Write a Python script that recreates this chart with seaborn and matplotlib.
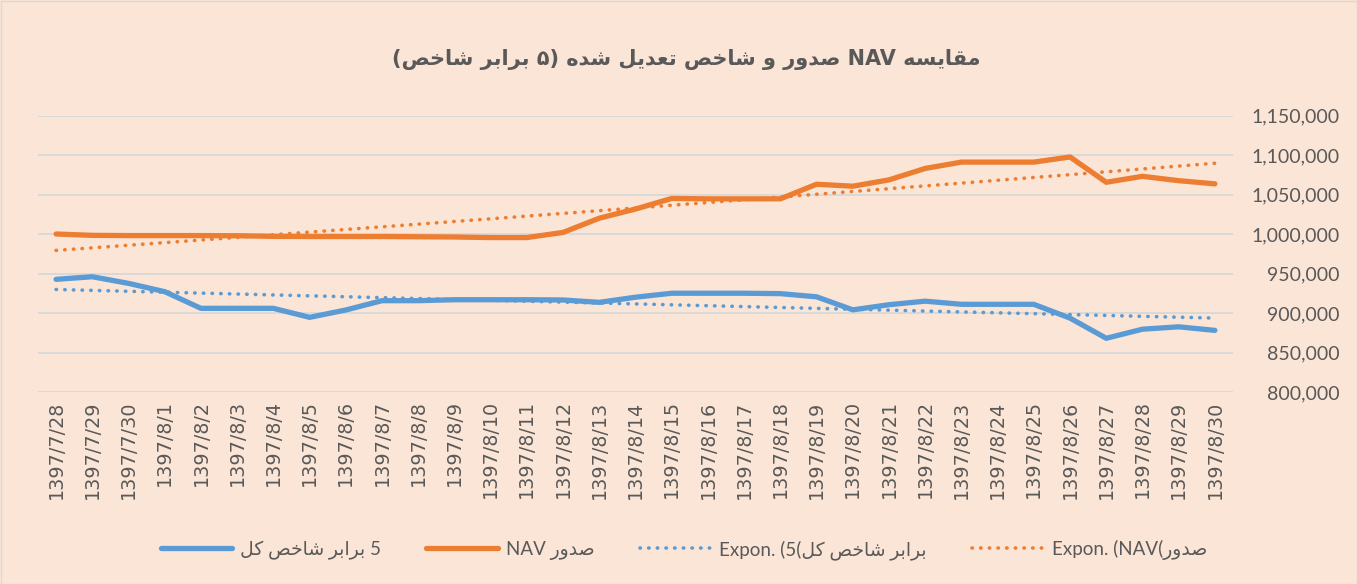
import numpy as np
import pandas as pd
import seaborn as sns
import matplotlib.pyplot as plt
from matplotlib.patches import Rectangle

# --- data ---
dates = ['1397/7/28', '1397/7/29', '1397/7/30'] + ['1397/8/%d' % d for d in range(1, 31)]

nav = [1000000, 998300, 998000, 998000, 998000, 997800, 997000, 996800,
       996800, 996800, 996500, 996200, 995500, 995500, 1002000, 1020000,
       1031600, 1045000, 1044500, 1044500, 1044500, 1063000, 1060500,
       1068500, 1083000, 1091000, 1091000, 1091000, 1097500, 1065500,
       1073000, 1067500, 1063500]

index5 = [942600, 945900, 937500, 927000, 905900, 905900, 905900, 894500,
          903800, 915600, 915600, 916800, 916800, 916800, 916500, 913500,
          920000, 925000, 925000, 925000, 924500, 920500, 904000, 910500,
          915000, 911000, 911000, 911000, 893500, 868000, 879500, 882500,
          878000]

yticks = list(range(800000, 1150001, 50000))

# --- minimal Persian shaping (matplotlib has no bidi/shaping) ---
FORMS = {
    'ا': ('\uFE8D', '\uFE8E'),
    'د': ('\uFEA9', '\uFEAA'),
    'ر': ('\uFEAD', '\uFEAE'),
    'و': ('\uFEED', '\uFEEE'),
    'ب': ('\uFE8F', '\uFE90', '\uFE91', '\uFE92'),
    'ت': ('\uFE95', '\uFE96', '\uFE97', '\uFE98'),
    'خ': ('\uFEA5', '\uFEA6', '\uFEA7', '\uFEA8'),
    'س': ('\uFEB1', '\uFEB2', '\uFEB3', '\uFEB4'),
    'ش': ('\uFEB5', '\uFEB6', '\uFEB7', '\uFEB8'),
    'ص': ('\uFEB9', '\uFEBA', '\uFEBB', '\uFEBC'),
    'ع': ('\uFEC9', '\uFECA', '\uFECB', '\uFECC'),
    'ق': ('\uFED5', '\uFED6', '\uFED7', '\uFED8'),
    'ل': ('\uFEDD', '\uFEDE', '\uFEDF', '\uFEE0'),
    'م': ('\uFEE1', '\uFEE2', '\uFEE3', '\uFEE4'),
    'ه': ('\uFEE9', '\uFEEA', '\uFEEB', '\uFEEC'),
    'ی': ('\uFBFC', '\uFBFD', '\uFEF3', '\uFEF4'),
    'ک': ('\uFB8E', '\uFB8F', '\uFEDB', '\uFEDC'),
}


def shape(word):
    out = []
    for i, c in enumerate(word):
        if c not in FORMS:
            out.append(c)
            continue
        prev = i > 0 and word[i - 1] in FORMS and len(FORMS[word[i - 1]]) == 4
        nxt = len(FORMS[c]) == 4 and i + 1 < len(word) and word[i + 1] in FORMS
        f = FORMS[c]
        if prev and nxt:
            out.append(f[3])
        elif prev:
            out.append(f[1])
        elif nxt:
            out.append(f[2])
        else:
            out.append(f[0])
    return ''.join(out)


def rtl(text):
    mirror = str.maketrans('()', ')(')
    words = []
    for w in reversed(text.split(' ')):
        if any('\u0600' <= c <= '\u06FF' for c in w):
            w = shape(w)[::-1].translate(mirror)
        words.append(w)
    return ' '.join(words)


title = rtl('مقایسه NAV صدور و شاخص تعدیل شده (۵ برابر شاخص)')
lbl_index = rtl('5 برابر شاخص کل')
lbl_nav = rtl('صدور NAV')
lbl_index_tr = 'Expon. (5' + rtl('برابر شاخص کل)')
lbl_nav_tr = 'Expon. (NAV' + rtl('صدور)')

# exponential trendlines, as Excel computes them
xs = np.arange(1, len(dates) + 1)
b1, a1 = np.polyfit(xs, np.log(index5), 1)
b2, a2 = np.polyfit(xs, np.log(nav), 1)
df = pd.DataFrame({'date': dates, 'nav': nav, 'index5': index5,
                   'index_tr': np.exp(a1 + b1 * xs), 'nav_tr': np.exp(a2 + b2 * xs)})

# --- style ---
bg = '#FBE5D6'
txt = '#595959'
blue = '#5B9BD5'
orange = '#ED7D31'
sns.set_theme(style='white')
plt.rcParams['font.family'] = ['Lato', 'DejaVu Sans']
plt.rcParams['text.color'] = txt

fig = plt.figure(figsize=(13.57, 5.84), dpi=100, facecolor=bg)
ax = fig.add_axes([38 / 1357, 1 - 392 / 584, 1195 / 1357, 276.5 / 584])
ax.set_facecolor(bg)

sns.lineplot(data=df, x='date', y='index5', ax=ax, color=blue, lw=3.8,
             solid_capstyle='round', label=lbl_index, zorder=3)
sns.lineplot(data=df, x='date', y='nav', ax=ax, color=orange, lw=3.8,
             solid_capstyle='round', label=lbl_nav, zorder=3)
sns.lineplot(data=df, x='date', y='index_tr', ax=ax, color=blue, lw=2.6,
             label=lbl_index_tr, zorder=4)
sns.lineplot(data=df, x='date', y='nav_tr', ax=ax, color=orange, lw=2.6,
             label=lbl_nav_tr, zorder=4)
for ln in ax.lines[2:4]:
    ln.set_dashes((0.1, 2.3))
    ln.set_dash_capstyle('round')

ax.set_xlim(-0.5, len(dates) - 0.5)
ax.set_ylim(800000, 1150000)
ax.set_yticks(yticks)
ax.set_yticklabels(['{:,}'.format(v) for v in yticks])
ax.yaxis.tick_right()
ax.tick_params(axis='y', length=0, pad=77, labelsize=14, labelcolor=txt)
for t in ax.get_yticklabels():
    t.set_horizontalalignment('right')
ax.tick_params(axis='x', length=0, pad=6, labelsize=13.8, labelcolor=txt,
               labelrotation=90)
for t in ax.get_xticklabels():
    t.set_fontfamily('DejaVu Sans')
ax.grid(axis='y', color='#D9D9D9', lw=1.4)
ax.grid(axis='x', visible=False)
ax.set_xlabel('')
ax.set_ylabel('')
sns.despine(ax=ax, left=True, right=True, top=True, bottom=True)

handles, labels = ax.get_legend_handles_labels()
ax.legend_.remove()
fig.legend(handles, labels, loc='center', bbox_to_anchor=(0.504, 1 - 550 / 584),
           ncol=4, frameon=False, fontsize=13.5, handlelength=3.8,
           handletextpad=0.45, columnspacing=2.4, labelcolor=txt)

fig.text(0.506, 1 - 60 / 584, title, ha='center', va='center', fontsize=15,
         fontweight='bold', color=txt, family=['DejaVu Sans'])

fig.patches.append(Rectangle((0.5 / 1357, 0.5 / 584), 1 - 1 / 1357, 1 - 1 / 584,
                             transform=fig.transFigure, fill=False,
                             ec='#D9D9D9', lw=1))

fig.savefig('out.png', dpi=100, facecolor=bg)
